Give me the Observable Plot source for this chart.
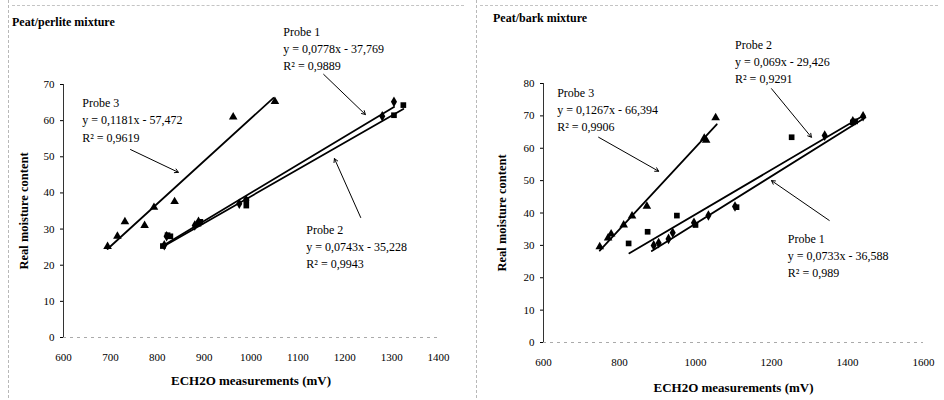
<!DOCTYPE html>
<html><head><meta charset="utf-8">
<script src="https://cdn.jsdelivr.net/npm/d3@7"></script>
<script src="https://cdn.jsdelivr.net/npm/@observablehq/plot@0.6"></script>
<style>
body{margin:0;background:#fff;}
#wrap{display:flex;width:944px;height:400px;}
.panel{position:relative;height:400px;}
.title{position:absolute;font-family:"Liberation Serif",serif;font-weight:bold;font-size:12px;line-height:14px;color:#000;white-space:nowrap;}
.vb{position:absolute;top:0;height:398px;width:0;border-left:1px dashed #b8b8b8;}
.hb{position:absolute;top:5px;height:0;border-top:1px dashed #c4c4c4;}
svg [aria-label="x-axis label"] text{font-weight:bold;font-size:13px;}
svg [aria-label="y-axis label"] text{font-weight:bold;font-size:12.5px;}
</style></head><body><div id="wrap"></div>
<script>
// ---------- Panel A: Peat/perlite mixture ----------
const titleA = "Peat/perlite mixture";
const xTicksA = [600, 700, 800, 900, 1000, 1100, 1200, 1300, 1400];
const yTicksA = [0, 10, 20, 30, 40, 50, 60, 70];
const a_p1_x = [815, 820, 880, 888, 975, 990, 1280, 1305];
const a_p1_y = [25.5, 28.0, 31.0, 32.0, 37.0, 38.0, 61.2, 65.2];
const a_p2_x = [812, 822, 828, 888, 892, 990, 990, 1305, 1325];
const a_p2_y = [25.3, 28.3, 28.0, 31.5, 32.0, 36.5, 38.0, 61.5, 64.3];
const a_p3_x = [694, 715, 731, 773, 793, 837, 962, 1051];
const a_p3_y = [25.2, 28.0, 32.0, 31.0, 36.0, 37.6, 61.0, 65.3];
const a_fitSlope = [0.0778, 0.0743, 0.1181];
const a_fitIntercept = [-37.769, -35.228, -57.472];
const a_fitXmin = [813, 812, 694];
const a_fitXmax = [1305, 1325, 1048];
const a_labels = [
  "Probe 1\ny = 0,0778x - 37,769\nR² = 0,9889",
  "Probe 2\ny = 0,0743x - 35,228\nR² = 0,9943",
  "Probe 3\ny = 0,1181x - 57,472\nR² = 0,9619"];
const a_labelX = [1069, 1118, 640];
const a_labelY = [86.9, 32.1, 67.0];
const a_arrowX1 = [1155, 1234, 743];
const a_arrowY1 = [72.8, 33.2, 52.0];
const a_arrowX2 = [1244, 1178, 845];
const a_arrowY2 = [61.7, 49.5, 45.7];

// ---------- Panel B: Peat/bark mixture ----------
const titleB = "Peat/bark mixture";
const xTicksB = [600, 800, 1000, 1200, 1400, 1600];
const yTicksB = [0, 10, 20, 30, 40, 50, 60, 70, 80];
const b_p1_x = [890, 903, 929, 940, 996, 1034, 1104, 1340, 1414, 1441];
const b_p1_y = [30.0, 30.7, 32.0, 33.9, 37.0, 39.2, 42.0, 63.9, 68.3, 69.9];
const b_p2_x = [824, 874, 951, 1000, 1108, 1253, 1414, 1420];
const b_p2_y = [30.6, 34.2, 39.2, 36.3, 41.8, 63.4, 68.0, 68.3];
const b_p3_x = [748, 770, 778, 811, 833, 872, 1023, 1028, 1053];
const b_p3_y = [29.6, 32.3, 33.5, 36.3, 39.1, 42.1, 63.1, 62.5, 69.4];
const b_fitSlope = [0.0733, 0.069, 0.1267];
const b_fitIntercept = [-36.588, -29.426, -66.394];
const b_fitXmin = [885, 826, 748];
const b_fitXmax = [1447, 1440, 1056];
const b_labels = [
  "Probe 1\ny = 0,0733x - 36,588\nR² = 0,989",
  "Probe 2\ny = 0,069x - 29,426\nR² = 0,9291",
  "Probe 3\ny = 0,1267x - 66,394\nR² = 0,9906"];
const b_labelX = [1243, 1104, 636];
const b_labelY = [34.6, 94.5, 79.7];
const b_arrowX1 = [1352, 1200, 745];
const b_arrowY1 = [37.7, 78.4, 63.4];
const b_arrowX2 = [1200, 1305, 903];
const b_arrowY2 = [50.0, 63.4, 52.9];

const probes = ["Probe 1", "Probe 2", "Probe 3"];
const symbols = ["diamond", "square", "triangle"];

function zipPts(xs, ys) { return xs.map((x, i) => ({x, y: ys[i]})); }

function makePanel(cfg) {
  const pts = [zipPts(cfg.p1x, cfg.p1y), zipPts(cfg.p2x, cfg.p2y), zipPts(cfg.p3x, cfg.p3y)];
  const fits = [];
  probes.forEach((p, i) => {
    [cfg.xmin[i], cfg.xmax[i]].forEach(x => fits.push({probe: p, x, y: cfg.slope[i] * x + cfg.intercept[i]}));
  });
  const ann = probes.map((p, i) => ({text: cfg.labels[i], x: cfg.lx[i], y: cfg.ly[i],
    x1: cfg.ax1[i], y1: cfg.ay1[i], x2: cfg.ax2[i], y2: cfg.ay2[i]}));
  const marks = [
    Plot.ruleY([0], {stroke: "#aaa", strokeDasharray: "3,4", strokeWidth: 1}),
    Plot.ruleX([cfg.xDomain[0]], {stroke: "#333", strokeWidth: 1}),
    Plot.axisX({ticks: cfg.xTicks, tickSize: 0, tickPadding: 16, tickFormat: d => String(d),
      label: "ECH2O measurements (mV)", labelAnchor: "center", labelArrow: "none", labelOffset: cfg.xLabelOffset}),
    Plot.axisY({ticks: cfg.yTicks, tickSize: 3, tickPadding: 6, tickFormat: d => String(d),
      label: "Real moisture content", labelAnchor: "center", labelArrow: "none", labelOffset: cfg.yLabelOffset}),
    Plot.line(fits, {x: "x", y: "y", z: "probe", stroke: "#000", strokeWidth: 1.8}),
    ...pts.map((d, i) => Plot.dot(d, {x: "x", y: "y", symbol: symbols[i], fill: "#000", stroke: "none", r: 3.2})),
    Plot.arrow(ann, {x1: "x1", y1: "y1", x2: "x2", y2: "y2", stroke: "#000", strokeWidth: 1, headLength: 6, bend: false}),
    Plot.text(ann, {x: "x", y: "y", text: "text", textAnchor: "start", lineAnchor: "top", lineHeight: 1.42,
      fontSize: 12, fill: "#000"})
  ];
  return Plot.plot({
    width: cfg.width, height: 400,
    marginLeft: cfg.ml, marginRight: cfg.mr, marginTop: cfg.mt, marginBottom: cfg.mb,
    x: {domain: cfg.xDomain},
    y: {domain: cfg.yDomain},
    style: {fontFamily: "Liberation Serif, serif", fontSize: "11px", color: "#000", background: "#fff"},
    marks
  });
}

function addPanel(cfg, title, tx, ty) {
  const div = document.createElement("div");
  div.className = "panel";
  div.style.width = cfg.width + "px";
  div.appendChild(makePanel(cfg));
  const vb = document.createElement("div");
  vb.className = "vb";
  vb.style.left = cfg.borderX + "px";
  div.appendChild(vb);
  const hb = document.createElement("div");
  hb.className = "hb";
  hb.style.left = (cfg.borderX + 4) + "px";
  hb.style.width = (cfg.width - cfg.borderX - 10) + "px";
  div.appendChild(hb);
  const t = document.createElement("div");
  t.className = "title";
  t.textContent = title;
  t.style.left = tx + "px";
  t.style.top = ty + "px";
  div.appendChild(t);
  document.getElementById("wrap").appendChild(div);
}

addPanel({width: 470, ml: 63, mr: 32, mt: 84, mb: 63, xDomain: [600, 1400], yDomain: [0, 70],
  xTicks: xTicksA, yTicks: yTicksA, xLabelOffset: 47, yLabelOffset: 44, borderX: 8,
  p1x: a_p1_x, p1y: a_p1_y, p2x: a_p2_x, p2y: a_p2_y, p3x: a_p3_x, p3y: a_p3_y,
  slope: a_fitSlope, intercept: a_fitIntercept, xmin: a_fitXmin, xmax: a_fitXmax,
  labels: a_labels, lx: a_labelX, ly: a_labelY, ax1: a_arrowX1, ay1: a_arrowY1, ax2: a_arrowX2, ay2: a_arrowY2
}, titleA, 12, 15);

addPanel({width: 474, ml: 73, mr: 21, mt: 83, mb: 58, xDomain: [600, 1600], yDomain: [0, 80],
  xTicks: xTicksB, yTicks: yTicksB, xLabelOffset: 49, yLabelOffset: 46, borderX: 6,
  p1x: b_p1_x, p1y: b_p1_y, p2x: b_p2_x, p2y: b_p2_y, p3x: b_p3_x, p3y: b_p3_y,
  slope: b_fitSlope, intercept: b_fitIntercept, xmin: b_fitXmin, xmax: b_fitXmax,
  labels: b_labels, lx: b_labelX, ly: b_labelY, ax1: b_arrowX1, ay1: b_arrowY1, ax2: b_arrowX2, ay2: b_arrowY2
}, titleB, 23, 11);
</script></body></html>
